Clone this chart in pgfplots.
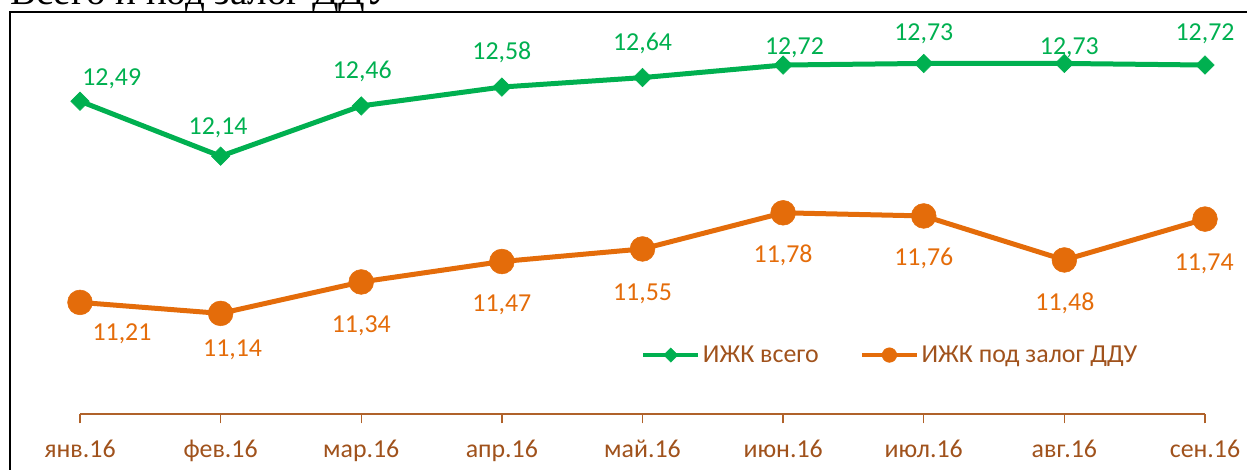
\documentclass[border=0pt]{standalone}
\usepackage{fontspec}
\setmainfont{Carlito}
\newfontfamily\titlefont{Liberation Serif}
\usepackage{pgfplots}
\usepackage{pgfplotstable}
\pgfplotsset{compat=1.18}
\definecolor{ggreen}{HTML}{00B050}
\definecolor{gorange}{HTML}{E46C0A}
\definecolor{tbrown}{HTML}{A0521C}
\definecolor{abrown}{HTML}{B0622A}
\newcommand{\lblfont}{\fontsize{19.4pt}{23pt}\selectfont}

\pgfplotstableread{
x y dx dy lab
0 12.49 23.8 11.7 12,49
1 12.14 -1.9 16.4 12,14
2 12.46 0.75 20.9 12,46
3 12.58 0 20.7 12,58
4 12.64 0 20.6 12,64
5 12.72 8.5 8.2 12,72
6 12.73 0 17.0 12,73
7 12.73 3.75 7.0 12,73
8 12.72 0 18.7 12,72
}\greendata

\pgfplotstableread{
x y dx dy lab
0 11.21 31.5 -28.9 11,21
1 11.14 9 -32.3 11,14
2 11.34 0 -37.6 11,34
3 11.47 0 -37.6 11,47
4 11.55 0 -38.6 11,55
5 11.78 0 -37.3 11,78
6 11.76 0 -37.4 11,76
7 11.48 0.4 -38.0 11,48
8 11.74 -0.6 -38.6 11,74
}\orangedata

\begin{document}
\begin{tikzpicture}
\begin{axis}[
  at={(60pt,-310.5pt)}, anchor=south west,
  scale only axis, width=843.75pt, height=294.75pt,
  xmin=0, xmax=8, ymin=10.5, ymax=13,
  clip=false,
  axis x line=bottom, axis y line=none,
  axis line style={abrown, line width=1pt, -},
  xtick={0,...,8},
  xticklabels={янв.16,фев.16,мар.16,апр.16,май.16,июн.16,июл.16,авг.16,сен.16},
  tick align=outside, major tick length=7pt,
  tick style={abrown, line width=1pt},
  xticklabel style={font=\lblfont, text=tbrown, anchor=base, inner sep=0pt, yshift=-25.75pt},
  legend columns=2,
  legend style={at={(axis cs:3.99,10.875)}, anchor=west, draw=none, fill=none,
    inner sep=0pt, font=\lblfont, text=tbrown,
    /tikz/every even column/.append style={column sep=29pt}},
  legend image code/.code={\draw[mark repeat=2,mark phase=2,#1] plot coordinates {(0pt,0pt) (20.6pt,0pt) (41.2pt,0pt)};},
]
\addplot[ggreen, line width=3.75pt, mark=square*, mark size=4.9pt,
  mark options={rotate=45, solid, line width=0.4pt},
  point meta=explicit symbolic,
  visualization depends on={\thisrow{dx}\as\dx},
  visualization depends on={\thisrow{dy}\as\dy},
  nodes near coords,
  nodes near coords style={anchor=base, inner sep=0pt, font=\lblfont, text=ggreen, xshift=\dx pt, yshift=\dy pt},
  forget plot]
  table[x=x, y=y, meta=lab] {\greendata};
\addplot[gorange, line width=3.75pt, mark=*, mark size=9.3pt,
  mark options={solid, line width=0.4pt},
  point meta=explicit symbolic,
  visualization depends on={\thisrow{dx}\as\dx},
  visualization depends on={\thisrow{dy}\as\dy},
  nodes near coords,
  nodes near coords style={anchor=base, inner sep=0pt, font=\lblfont, text=gorange, xshift=\dx pt, yshift=\dy pt},
  forget plot]
  table[x=x, y=y, meta=lab] {\orangedata};
\addlegendimage{ggreen, line width=3pt, mark=square*, mark size=3.8pt, mark options={rotate=45, solid, line width=0.3pt}}
\addlegendentry{ИЖК всего}
\addlegendimage{gorange, line width=3pt, mark=*, mark size=5.5pt, mark options={solid, line width=0.3pt}}
\addlegendentry{ИЖК под залог ДДУ}
\end{axis}
\draw[black, line width=1.5pt] (7.5pt,-360pt) -- (7.5pt,-8.8pt) -- (945pt,-8.8pt);
\node[anchor=base west, inner sep=0pt, font=\titlefont\fontsize{29.2pt}{33pt}\selectfont] at (7.5pt,-3.5pt) {Всего и под залог ДДУ};
\pgfresetboundingbox
\useasboundingbox (0,0) rectangle (935.25pt,-351.75pt);
\end{tikzpicture}
\end{document}
